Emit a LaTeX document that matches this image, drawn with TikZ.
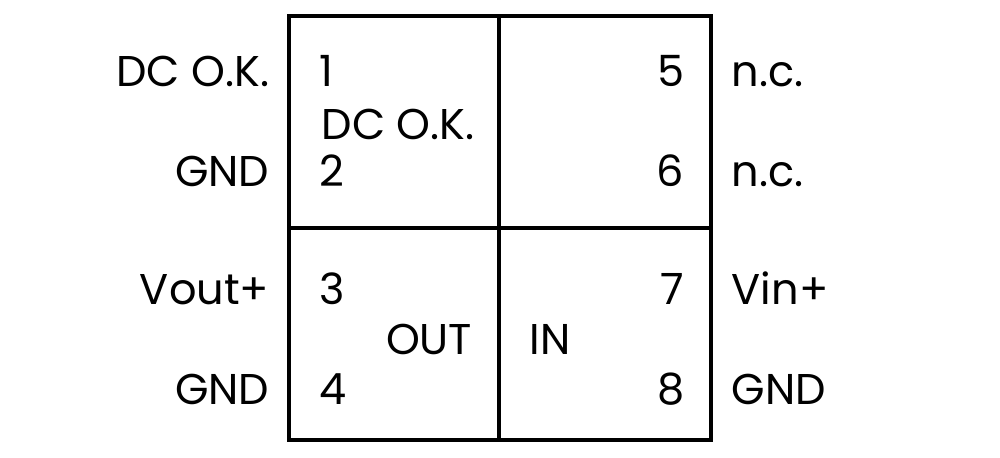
\documentclass[tikz,border=0pt]{standalone}
\usepackage{fontspec}
\setmainfont{Poppins}
\usepackage{tikz}

\begin{document}
\begin{tikzpicture}[x=0.02cm,y=-0.02cm,line width=2pt,
    lbl/.style={inner sep=0pt,font=\fontsize{24.5}{28}\selectfont}]
                \useasboundingbox (0,0) rectangle (1000,457);
                \draw (289,16) rectangle (711,440);
                \draw (499,16) -- (499,440);
                \draw (289,228) -- (711,228);
                % left side
                \node [lbl, anchor=mid east] (ndc) at (271,82) {DC O.K.};
                \node [lbl, anchor=mid west] (p1) at (318,82) {1};
                \node [lbl, anchor=mid west] (ndcin) at (320,135) {DC O.K.};
                \node [lbl, anchor=mid east] (ngnda) at (271,182) {GND};
                \node [lbl, anchor=mid west] (p2) at (318,182) {2};
                \node [lbl, anchor=mid east] (nvout) at (271,300) {Vout+};
                \node [lbl, anchor=mid west] (p3) at (318,300) {3};
                \node [lbl, anchor=mid east] (ngndb) at (271,400) {GND};
                \node [lbl, anchor=mid west] (p4) at (318,400) {4};
                \node [lbl, anchor=mid east] (nout) at (474,350) {OUT};
                % right side
                \node [lbl, anchor=mid east] (p5) at (686,82) {5};
                \node [lbl, anchor=mid west] (nnca) at (730,82) {n.c.};
                \node [lbl, anchor=mid east] (p6) at (686,182) {6};
                \node [lbl, anchor=mid west] (nncb) at (730,182) {n.c.};
                \node [lbl, anchor=mid east] (p7) at (686,300) {7};
                \node [lbl, anchor=mid west] (nvin) at (730,300) {Vin+};
                \node [lbl, anchor=mid east] (p8) at (686,400) {8};
                \node [lbl, anchor=mid west] (ngndc) at (730,400) {GND};
                \node [lbl, anchor=mid west] (nin) at (528,350) {IN};
            \end{tikzpicture}
\end{document}
